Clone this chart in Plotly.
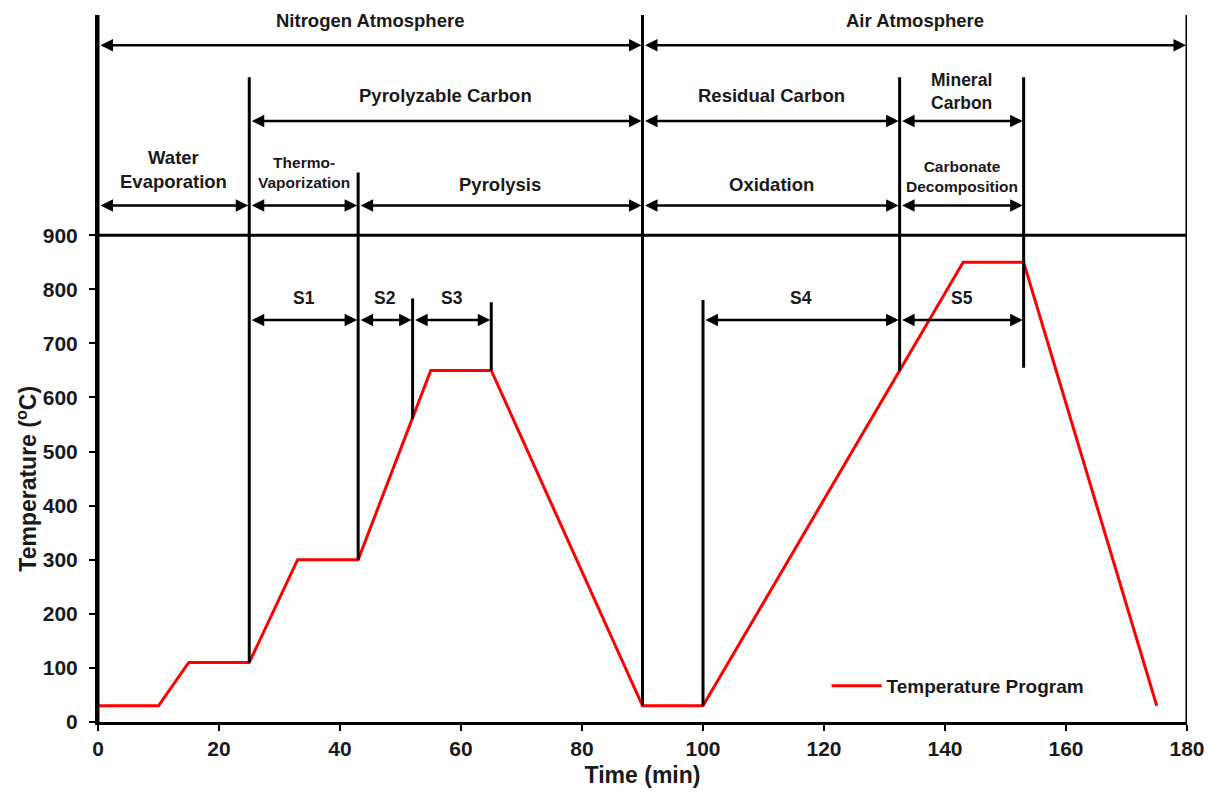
import plotly.graph_objects as go

# Furnace temperature program
time_min = [0, 10, 15, 25, 33, 43, 55, 65, 90, 100, 143, 153, 175]
temp_c = [30, 30, 110, 110, 300, 300, 650, 650, 30, 30, 850, 850, 30]

# Axis ticks
x_ticks = [0, 20, 40, 60, 80, 100, 120, 140, 160, 180]
y_ticks = [0, 100, 200, 300, 400, 500, 600, 700, 800, 900]

Y_TOP = 1307  # top of the annotated region above the 900 °C frame line

# Vertical phase dividers: position, lower end, upper end
divider_x = [0, 25, 43, 52, 65, 90, 100, 132.5, 153, 180]
divider_lo = [0, 110, 300, 560, 650, 30, 30, 650, 655, 0]
divider_hi = [Y_TOP, 1192, 1016, 783, 776, Y_TOP, 780, 1192, 1192, Y_TOP]

# Double-headed span arrows: label, start, end, arrow level, label level, font size
span_label = ["Nitrogen Atmosphere", "Air Atmosphere",
              "Pyrolyzable Carbon", "Residual Carbon", "Mineral<br>Carbon",
              "Water<br>Evaporation", "Thermo-<br>Vaporization", "Pyrolysis",
              "Oxidation", "Carbonate<br>Decomposition",
              "S1", "S2", "S3", "S4", "S5"]
span_start = [0, 90, 25, 90, 132.5, 0, 25, 43, 90, 132.5, 25, 43, 52, 100, 132.5]
span_end = [90, 180, 90, 132.5, 153, 25, 43, 90, 132.5, 153, 43, 52, 65, 132.5, 153]
span_level = [1251, 1251, 1111, 1111, 1111, 955, 955, 955, 955, 955,
              743, 743, 743, 743, 743]
label_level = [1297, 1297, 1159, 1159, 1166, 1022, 1016, 994, 994, 1009,
               784, 784, 784, 784, 784]
label_size = [18.5, 18.5, 18.5, 18.5, 17.5, 18.5, 15.5, 18.5, 18.5, 15.5,
              17.5, 17.5, 17.5, 17.5, 17.5]

FONT = "Liberation Sans, Arial, sans-serif"
TEXT = "#1a1a1a"

fig = go.Figure()
fig.add_trace(go.Scatter(
    x=time_min, y=temp_c, mode="lines",
    name="<b>Temperature Program</b>",
    line=dict(color="#ff0000", width=3),
))

shapes = []
for xv, lo, hi in zip(divider_x, divider_lo, divider_hi):
    shapes.append(dict(type="line", xref="x", yref="y", x0=xv, x1=xv, y0=lo, y1=hi,
                       line=dict(color="black", width=3)))
# frame line at 900 °C
shapes.append(dict(type="line", xref="x", yref="y", x0=x_ticks[0], x1=x_ticks[-1],
                   y0=y_ticks[-1], y1=y_ticks[-1], line=dict(color="black", width=3)))

annotations = []
for lab, s, e, lv, tl, fs in zip(span_label, span_start, span_end, span_level,
                                 label_level, label_size):
    annotations.append(dict(
        x=e, y=lv, ax=s, ay=lv, xref="x", yref="y", axref="x", ayref="y",
        text="", showarrow=True, arrowside="end+start",
        arrowhead=2, startarrowhead=2, arrowsize=1, startarrowsize=1,
        arrowwidth=2.5, arrowcolor="black", standoff=1, startstandoff=1,
    ))
    annotations.append(dict(
        x=(s + e) / 2, y=tl, xref="x", yref="y", showarrow=False,
        text=f"<b>{lab}</b>", font=dict(family=FONT, size=fs, color=TEXT),
        align="center", xanchor="center", yanchor="middle",
    ))

# y-axis title centred on the 0–900 scale
annotations.append(dict(
    x=-0.066, y=450, xref="paper", yref="y", showarrow=False, textangle=-90,
    xanchor="center", yanchor="middle",
    text="<b>Temperature (<sup>o</sup>C)</b>",
    font=dict(family=FONT, size=23, color=TEXT),
))

fig.update_layout(
    width=1210, height=796,
    margin=dict(l=98, r=23, t=15, b=74),
    paper_bgcolor="white", plot_bgcolor="white",
    font=dict(family=FONT, color=TEXT),
    showlegend=True,
    legend=dict(x=0.669, y=0.051, xanchor="left", yanchor="middle",
                bgcolor="rgba(0,0,0,0)", font=dict(family=FONT, size=19, color=TEXT),
                itemwidth=50),
    shapes=shapes,
    annotations=annotations,
)
fig.update_xaxes(
    range=[0, 180], tickvals=x_ticks, showgrid=False, zeroline=False,
    showline=True, linecolor="black", linewidth=3, automargin=False,
    ticks="outside", ticklen=6, tickwidth=2, tickcolor="black",
    tickfont=dict(family=FONT, size=21, color=TEXT, weight="bold"),
    title=dict(text="<b>Time (min)</b>", font=dict(family=FONT, size=23, color=TEXT),
               standoff=8),
)
fig.update_yaxes(
    range=[0, Y_TOP], tickvals=y_ticks, showgrid=False, zeroline=False,
    showline=True, linecolor="black", linewidth=3, automargin=False,
    ticks="outside", ticklen=6, tickwidth=2, tickcolor="black",
    ticklabelstandoff=7,
    tickfont=dict(family=FONT, size=21, color=TEXT, weight="bold"),
)

fig.write_html("out.html")
